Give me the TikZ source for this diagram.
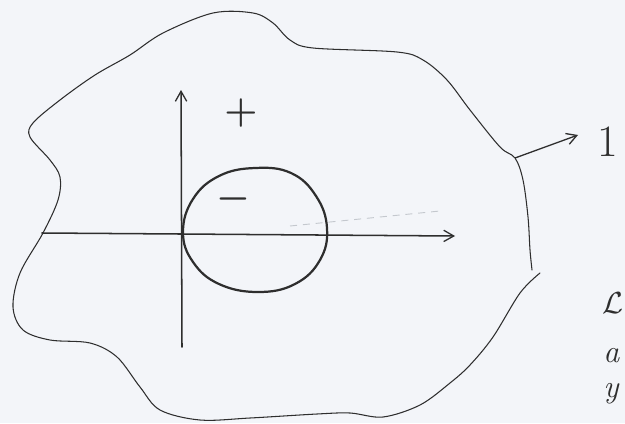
\documentclass[tikz,border=0pt]{standalone}
\usetikzlibrary{arrows.meta}
\definecolor{paper}{HTML}{F3F5F9}
\definecolor{ink}{HTML}{2E2E2E}
\definecolor{faint}{HTML}{C4C8CE}
\tikzset{
  outline/.style={draw=ink, line width=0.9pt, line cap=round, line join=round},
  axis/.style={draw=ink, line width=1.3pt, line cap=round, -{Straight Barb[length=3mm,width=3.4mm,line width=1.1pt]}},
  ring/.style={draw=ink, line width=1.9pt},
  sign/.style={text=ink, inner sep=0pt, font=\Huge\bfseries\boldmath, scale=1.3},
  hand/.style={text=ink, inner sep=0pt, font=\Huge, scale=1.1},
}
\begin{document}
\begin{tikzpicture}[x=0.03cm, y=-0.03cm]
\useasboundingbox (0,0) rectangle (625,423);
\clip (0,0) rectangle (625,423);
\fill[paper] (0,0) rectangle (625,423);
% irregular region
\draw[outline] plot[smooth, tension=0.55] coordinates {
 (540,273) (520,293) (493,337) (470,365) (450,383) (420,405) (383,417)
 (350,413) (317,414) (250,418) (200,420) (160,410) (140,387) (117,357)
 (90,343) (50,340) (23,330) (13,307) (20,273) (43,233) (58,200) (60,177)
 (50,160) (30,137) (33,123) (60,100) (95,75) (130,55) (163,33) (213,13)
 (253,13) (273,23) (290,40) (313,48) (397,52) (423,60) (447,80) (470,110)
 (500,147) (515,158) (523,180) (528,217) (530,250) (532,270)};
% faint smudge line
\draw[faint, line width=0.8pt, dash pattern=on 6pt off 5pt] (290,226) -- (440,211);
% axes
\coordinate (xl) at (42,233);
\coordinate (xr) at (455,236);
\coordinate (yb) at (182,347);
\coordinate (yt) at (181,90);
\draw[axis] (xl) -- (xr);
\draw[axis] (yb) -- (yt);
% circle
\draw[ring] plot[smooth cycle, tension=0.7] coordinates {
 (183,232) (193,199) (219,176) (255,168) (291,173) (316,196)
 (327,228) (320,260) (295,284) (258,292) (219,284) (193,262)};
% signs
\node[sign] (plus) at (241,113) {$+$};
\node[sign] (minus) at (233,199) {$-$};
% label 1
\coordinate (edge) at (515,158);
\node[hand, anchor=west, scale=1.4] (one) at (597,142) {1};
\draw[ink, line width=1.1pt, -{Straight Barb[length=3mm,width=3.4mm,line width=1.1pt]}] (edge) -- (578,135);
% cut-off words at right edge
\node[hand, anchor=west, scale=0.95] (w1) at (602,303) {$\mathcal{L}$};
\node[hand, anchor=west, scale=1.0, font=\Huge\itshape] (w2) at (603,356) {a};
\node[hand, anchor=west, scale=1.0, font=\Huge\itshape] (w3) at (603,394) {y};
\end{tikzpicture}
\end{document}
